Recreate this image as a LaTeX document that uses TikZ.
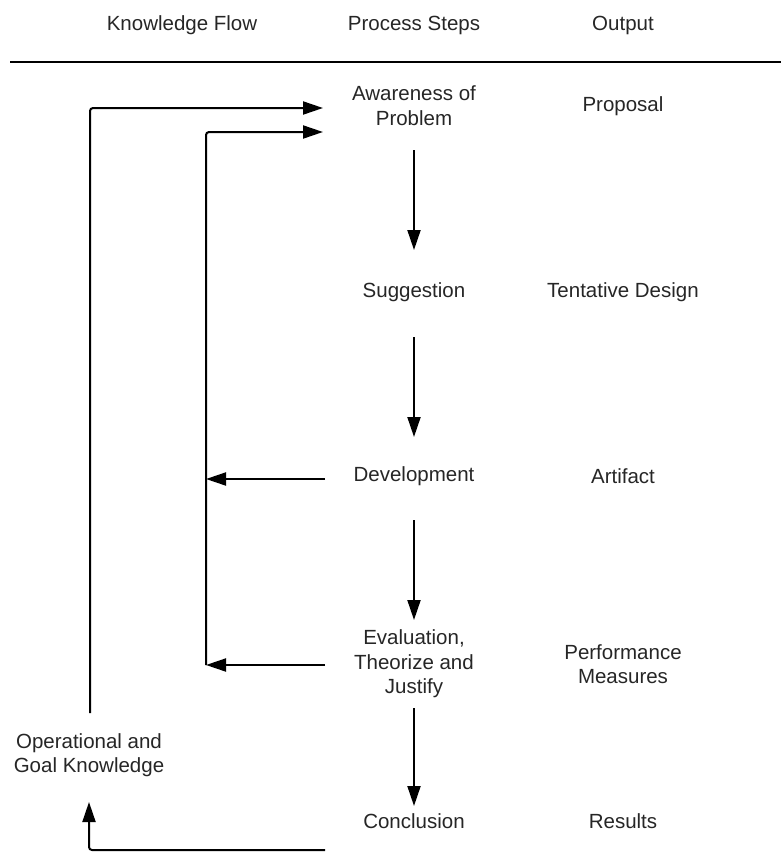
\documentclass[tikz,border=0pt]{standalone}
\usepackage{fontspec}
\setmainfont{Liberation Sans}
\usetikzlibrary{arrows.meta}
\begin{document}
\begin{tikzpicture}[x=1pt,y=-1pt,
  lbl/.style={font=\fontsize{20.5}{24.5}\selectfont, align=center, inner sep=0pt, text=black!85},
  flow/.style={line width=2pt, -{Triangle[length=20pt,width=13pt]}, rounded corners=3pt},
  rule/.style={line width=2pt}]
\useasboundingbox (0,0) rectangle (781,857);
% header
\node[lbl] (hk) at (182,25) {Knowledge Flow};
\node[lbl] (hp) at (414,25) {Process Steps};
\node[lbl] (ho) at (623,25) {Output};
\coordinate (r0) at (10,62);
\coordinate (r1) at (781,62);
\draw[rule] (r0) -- (r1);
% process steps
\node[lbl] (aw) at (414,105.5) {Awareness of\\Problem};
\node[lbl] (sg) at (414,292) {Suggestion};
\node[lbl] (dv) at (414,476) {Development};
\node[lbl] (ev) at (414,664) {Evaluation,\\Theorize and\\Justify};
\node[lbl] (cn) at (414,821) {Conclusion};
% outputs
\node[lbl] (o1) at (623,106) {Proposal};
\node[lbl] (o2) at (623,292) {Tentative Design};
\node[lbl] (o3) at (623,476) {Artifact};
\node[lbl] (o4) at (623,664) {Performance\\Measures};
\node[lbl] (o5) at (623,821) {Results};
% knowledge
\node[lbl] (ok) at (89,755) {Operational and\\Goal Knowledge};
% connector end points
\coordinate (a1) at (414,150); \coordinate (a2) at (414,250);
\coordinate (b1) at (414,337); \coordinate (b2) at (414,437);
\coordinate (c1) at (414,520); \coordinate (c2) at (414,620);
\coordinate (e1) at (414,708); \coordinate (e2) at (414,806);
\coordinate (dvl) at (325,479); \coordinate (dvt) at (206,479);
\coordinate (evl) at (325,665); \coordinate (evt) at (206,665);
\coordinate (inT) at (323,132);
\coordinate (okT) at (90,713); \coordinate (outT) at (323,108);
\coordinate (cnl) at (325,850); \coordinate (okB) at (89,802);
% down arrows
\draw[flow] (a1) -- (a2);
\draw[flow] (b1) -- (b2);
\draw[flow] (c1) -- (c2);
\draw[flow] (e1) -- (e2);
% feedback
\draw[flow] (dvl) -- (dvt);
\draw[flow] (evl) -- (evt);
\draw[flow] (evt) |- (inT);
\draw[flow] (okT) |- (outT);
\draw[flow] (cnl) -| (okB);
\end{tikzpicture}
\end{document}
